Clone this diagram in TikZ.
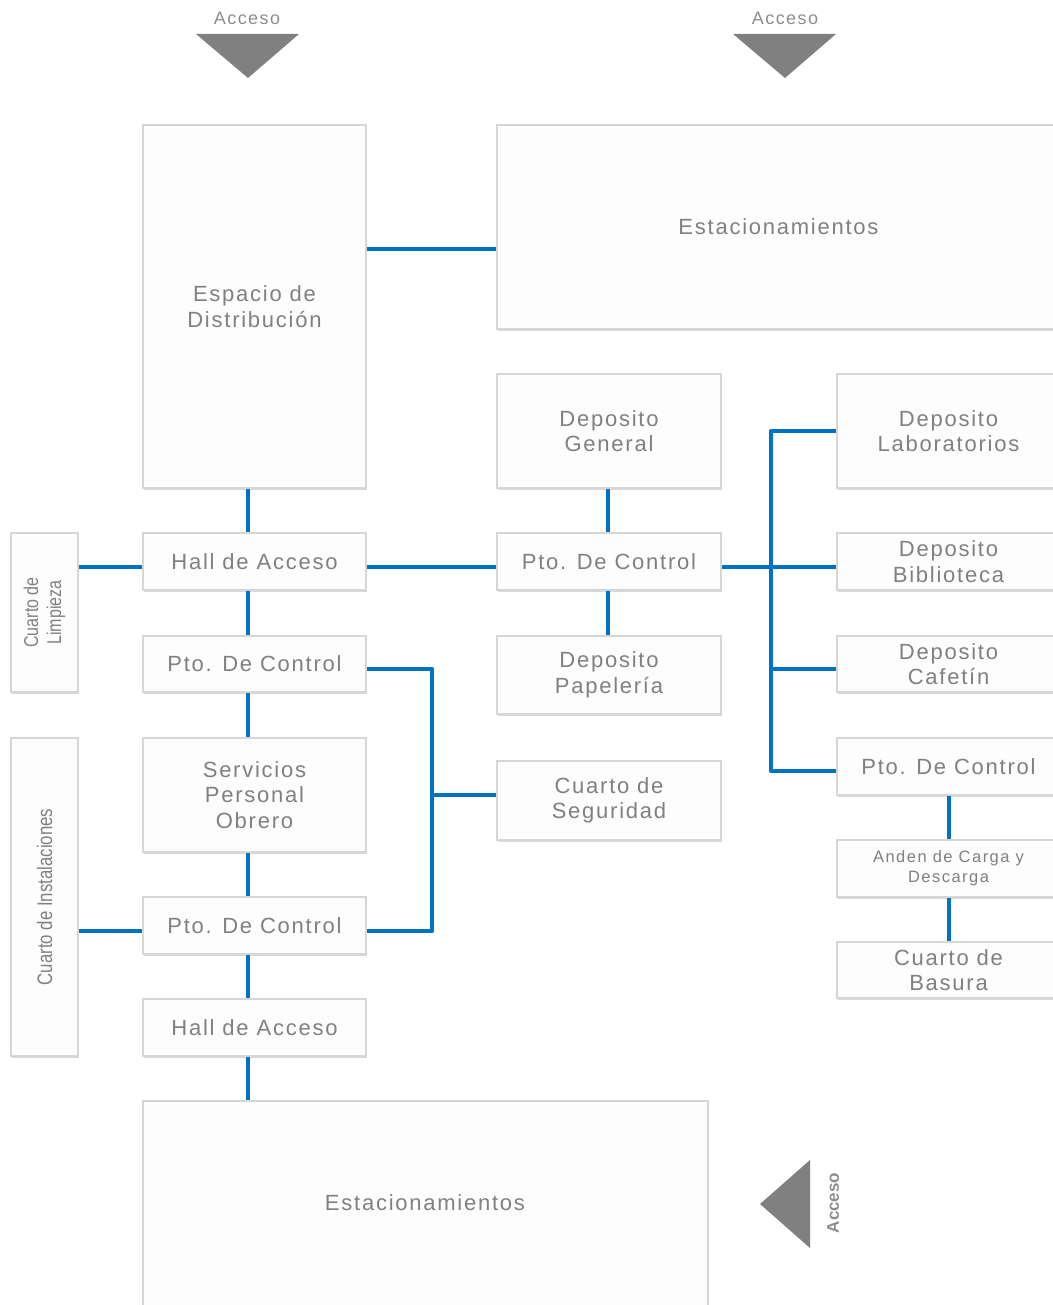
\documentclass[tikz,border=0pt]{standalone}
\usepackage{fontspec}
\setmainfont{Liberation Sans}
\newfontfamily\spaced{Liberation Sans}[LetterSpace=8]
\newfontfamily\spacedb{Liberation Sans}[LetterSpace=9]
\usetikzlibrary{shadows}
\definecolor{lnk}{RGB}{0,114,198}
\definecolor{bord}{RGB}{214,214,214}
\definecolor{bfill}{RGB}{253,253,253}
\definecolor{txt}{RGB}{128,128,128}
\definecolor{tri}{RGB}{128,128,128}
\newcommand{\cnd}[1]{\scalebox{0.8}[1]{#1}}
\begin{document}
\begin{tikzpicture}[x=1pt,y=-1pt,
  box/.style={draw=bord, line width=1.3pt, fill=bfill, text=txt, align=center, inner sep=0pt,
    font=\spaced\fontsize{22}{25.5}\selectfont,
    drop shadow={shadow xshift=1.2pt, shadow yshift=-1.5pt, fill=black!25, opacity=0.6}},
  small/.style={font=\spacedb\fontsize{16.5}{20}\selectfont},
  vtext/.style={rotate=90, text=txt, align=center, inner sep=0pt},
  link/.style={draw=lnk, line width=4pt, line join=round},
  acc/.style={text=txt!90, font=\spaced\fontsize{18}{20}\selectfont, inner sep=0pt},
  arrowtri/.style={fill=tri}]
\useasboundingbox (0,0) rectangle (1052,1305);

\coordinate (L) at (248,0);
\coordinate (M) at (608,0);
\coordinate (R) at (949,0);
\coordinate (B) at (771,0);
\coordinate (S) at (432,0);

% boxes
\node[box, minimum width=223pt, minimum height=363pt] (esp) at (254.5,306.5) {Espacio de\\Distribución};
\node[box, minimum width=563pt, minimum height=204pt] (est1) at (778.5,227) {Estacionamientos};
\node[box, minimum width=224pt, minimum height=114pt] (dgen) at (609,431) {Deposito\\General};
\node[box, minimum width=223pt, minimum height=114pt] (dlab) at (948.5,431) {Deposito\\Laboratorios};
\node[box, minimum width=67pt, minimum height=159pt] (limp) at (44.5,612.5) {};
\node[box, minimum width=223pt, minimum height=57pt] (hall1) at (254.5,561.5) {Hall de Acceso};
\node[box, minimum width=224pt, minimum height=57pt] (pto2) at (609,561.5) {Pto. De Control};
\node[box, minimum width=223pt, minimum height=57pt] (dbib) at (948.5,561.5) {Deposito\\Biblioteca};
\node[box, minimum width=223pt, minimum height=56pt] (pto1) at (254.5,664) {Pto. De Control};
\node[box, minimum width=224pt, minimum height=78pt] (dpap) at (609,675) {Deposito\\Papelería};
\node[box, minimum width=223pt, minimum height=56pt] (dcaf) at (948.5,664) {Deposito\\Cafetín};
\node[box, minimum width=67pt, minimum height=318pt] (inst) at (44.5,897) {};
\node[box, minimum width=223pt, minimum height=114pt] (serv) at (254.5,795) {Servicios\\Personal\\Obrero};
\node[box, minimum width=224pt, minimum height=79pt] (seg) at (609,800.5) {Cuarto de\\Seguridad};
\node[box, minimum width=223pt, minimum height=57pt] (pto4) at (948.5,766.5) {Pto. De Control};
\node[box, small, minimum width=223pt, minimum height=57pt] (anden) at (948.5,868.5) {Anden de Carga y\\Descarga};
\node[box, minimum width=223pt, minimum height=56pt] (bas) at (948.5,970) {Cuarto de\\Basura};
\node[box, minimum width=223pt, minimum height=57pt] (pto3) at (254.5,925.5) {Pto. De Control};
\node[box, minimum width=223pt, minimum height=57pt] (hall2) at (254.5,1027.5) {Hall de Acceso};
\node[box, minimum width=565pt, minimum height=210pt] (est2) at (425.5,1206) {};
\node[text=txt, font=\spaced\fontsize{22}{25.5}\selectfont, inner sep=0pt] (est2t) at (425,1203) {Estacionamientos};

% rotated labels
\node[vtext, font=\fontsize{20}{23}\selectfont] (limpt) at (limp) {\cnd{Cuarto de}\\\cnd{Limpieza}};
\node[vtext, font=\fontsize{21}{24}\selectfont] (instt) at (inst) {\cnd{Cuarto de Instalaciones}};

% connectors
\draw[link] (esp.east |- 0,249) -- (est1.west |- 0,249);
\draw[link] (esp.south -| L) -- (hall1.north -| L);
\draw[link] (limp.east |- 0,567) -- (hall1.west |- 0,567);
\draw[link] (hall1.east |- 0,567) -- (pto2.west |- 0,567);
\draw[link] (hall1.south -| L) -- (pto1.north -| L);
\draw[link] (dgen.south -| M) -- (pto2.north -| M);
\draw[link] (pto2.south -| M) -- (dpap.north -| M);
\draw[link] (pto2.east |- 0,567) -- (dbib.west |- 0,567);
\draw[link] (dlab.west |- 0,431) -- (B |- 0,431) -- (B |- 0,771) -- (pto4.west |- 0,771);
\draw[link] (B |- 0,669) -- (dcaf.west |- 0,669);
\draw[link] (pto1.south -| L) -- (serv.north -| L);
\draw[link] (serv.south -| L) -- (pto3.north -| L);
\draw[link] (pto3.south -| L) -- (hall2.north -| L);
\draw[link] (hall2.south -| L) -- (est2.north -| L);
\draw[link] (inst.east |- 0,931) -- (pto3.west |- 0,931);
\draw[link] (pto1.east |- 0,669) -- (S |- 0,669) -- (S |- 0,931) -- (pto3.east |- 0,931);
\draw[link] (S |- 0,795) -- (seg.west |- 0,795);
\draw[link] (pto4.south -| R) -- (anden.north -| R);
\draw[link] (anden.south -| R) -- (bas.north -| R);

% access markers
\fill[arrowtri] (196,34) -- (299,34) -- (248,78) -- cycle;
\node[acc] (acc1) at (247,18) {Acceso};
\fill[arrowtri] (733,34) -- (836,34) -- (785,78) -- cycle;
\node[acc] (acc2) at (785,18) {Acceso};
\fill[arrowtri] (810,1160) -- (810,1248) -- (760,1204) -- cycle;
\node[acc, font=\bfseries\fontsize{17}{20}\selectfont, rotate=90] (acc3) at (833,1203) {Acceso};
\end{tikzpicture}
\end{document}
